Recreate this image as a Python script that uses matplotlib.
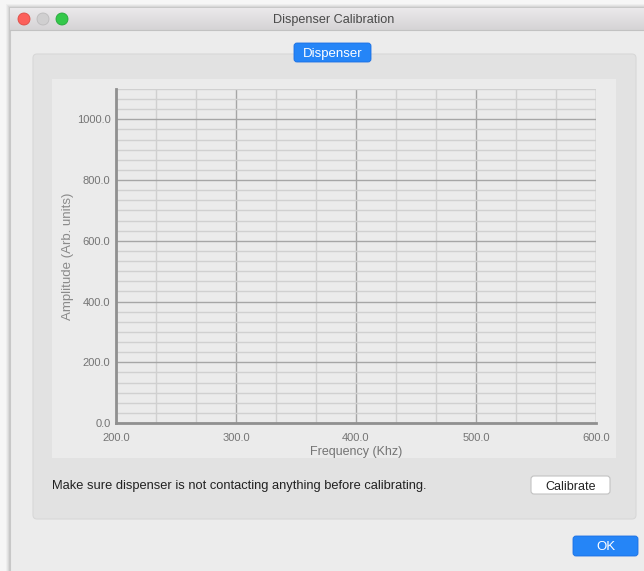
import matplotlib.pyplot as plt
from matplotlib.patches import FancyBboxPatch, Rectangle, Circle
from matplotlib.ticker import MultipleLocator, FormatStrFormatter
import numpy as np

plt.rcParams['font.family'] = ['Liberation Sans', 'DejaVu Sans']

# data (the calibration plot is still empty)
freq_khz = []
amplitude = []
x_range = [200.0, 600.0]
y_range = [0.0, 1100.0]
x_major = 100.0
y_major = 200.0
x_minor = 100.0 / 3
y_minor = 200.0 / 6

W, H = 644, 571
fig = plt.figure(figsize=(W / 100, H / 100), dpi=100)
fig.patch.set_facecolor('#f6f6f6')

# window chrome drawn in pixel coords
bg = fig.add_axes([0, 0, 1, 1])
bg.set_xlim(0, W)
bg.set_ylim(H, 0)
bg.axis('off')

# soft shadow round the window
for i, a in enumerate([0.03, 0.04, 0.05, 0.07]):
    d = 4 - i
    bg.add_patch(Rectangle((10 - d, 8 - d), 700, 600, fc='#000000', alpha=a, lw=0))
bg.add_patch(Rectangle((10, 8), 700, 600, fc='#ececec', ec='#c8c8c8', lw=0.8))

# title bar gradient
grad = np.linspace(0, 1, 50).reshape(-1, 1)
bg.imshow(grad, cmap=plt.matplotlib.colors.LinearSegmentedColormap.from_list('tb', ['#ebe9eb', '#d5d3d5']),
          extent=[10, 700, 30, 8], aspect='auto', zorder=2)
bg.plot([10, 700], [30, 30], color='#c2c2c2', lw=0.8, zorder=3)
bg.text(334, 20.5, 'Dispenser Calibration', ha='center', va='center', fontsize=9.1, color='#4a4a4a', zorder=4)
for cx, fc, ec in [(24, '#fc605b', '#de4a43'), (43, '#d0cfd0', '#bcbbbc'), (62, '#34c84a', '#25a83b')]:
    bg.add_patch(Circle((cx, 19), 6, fc=fc, ec=ec, lw=0.6, zorder=4))

# group box
bg.add_patch(FancyBboxPatch((33, 54), 603, 465, boxstyle='round,pad=0,rounding_size=4',
                            fc='#e2e2e2', ec='#d8d8d8', lw=0.8, zorder=2))
# chart widget background
bg.add_patch(Rectangle((52, 79), 564, 379, fc='#ebebeb', lw=0, zorder=3))

# Dispenser tab button
bg.add_patch(FancyBboxPatch((294, 43), 77, 19, boxstyle='round,pad=0,rounding_size=3',
                            fc='#2585f7', ec='#1a6fe3', lw=0.6, zorder=4))
bg.text(332.5, 54, 'Dispenser', ha='center', va='center', fontsize=9.5, color='white', zorder=5)

# bottom message and buttons
bg.text(52, 486.5, 'Make sure dispenser is not contacting anything before calibrating.',
        ha='left', va='center', fontsize=9.25, color='#222222', zorder=4)
bg.add_patch(FancyBboxPatch((531, 476), 79, 18, boxstyle='round,pad=0,rounding_size=3',
                            fc='white', ec='#c2c2c2', lw=0.8, zorder=4))
bg.text(570.5, 486.5, 'Calibrate', ha='center', va='center', fontsize=9, color='#222222', zorder=5)
bg.add_patch(FancyBboxPatch((573, 536), 65, 20, boxstyle='round,pad=0,rounding_size=3',
                            fc='#2585f7', ec='#1a6fe3', lw=0.6, zorder=4))
bg.text(605.5, 547, 'OK', ha='center', va='center', fontsize=9.5, color='white', zorder=5)

# the plot itself
ax = fig.add_axes([116 / W, 1 - 423 / H, 480 / W, 334 / H])
ax.set_facecolor('#ebebeb')
ax.plot(freq_khz, amplitude, color='#2585f7')
ax.set_xlim(x_range)
ax.set_ylim(y_range)
ax.xaxis.set_major_locator(MultipleLocator(x_major))
ax.yaxis.set_major_locator(MultipleLocator(y_major))
ax.xaxis.set_minor_locator(MultipleLocator(x_minor))
ax.yaxis.set_minor_locator(MultipleLocator(y_minor))
ax.xaxis.set_major_formatter(FormatStrFormatter('%.1f'))
ax.yaxis.set_major_formatter(FormatStrFormatter('%.1f'))
ax.grid(which='major', color='#a6a6a6', lw=1)
ax.grid(which='minor', color='#d0d0d0', lw=1)
ax.set_axisbelow(True)
for s in ['top', 'right']:
    ax.spines[s].set_visible(False)
for s in ['left', 'bottom']:
    ax.spines[s].set_color('#909090')
    ax.spines[s].set_linewidth(2)
ax.tick_params(which='both', length=0, labelsize=8, labelcolor='#747474')
ax.tick_params(axis='x', pad=7)
ax.tick_params(axis='y', pad=4)
ax.set_xlabel('Frequency (Khz)', fontsize=9, color='#747474', labelpad=2)
ax.set_ylabel('Amplitude (Arb. units)', fontsize=9.5, color='#8a8a8a', labelpad=2)

fig.savefig('out.png', dpi=100)
